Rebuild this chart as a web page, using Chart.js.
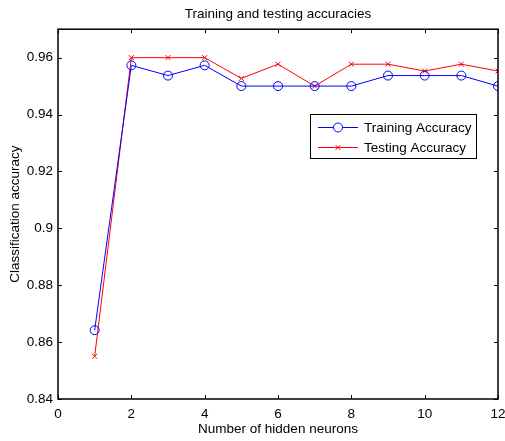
<!DOCTYPE html>
<html>
<head>
<meta charset="utf-8">
<script src="https://cdn.jsdelivr.net/npm/chart.js@4"></script>
<style>
  html, body { margin: 0; padding: 0; background: #fff; }
  #wrap { width: 505px; height: 441px; }
</style>
</head>
<body>
<div id="wrap"><canvas id="c" width="505" height="441"></canvas></div>
<script>
// Hidden layer size vs. accuracy
const neurons = [1, 2, 3, 4, 5, 6, 7, 8, 9, 10, 11, 12];
const trainingAccuracy = [0.8642, 0.9573, 0.9537, 0.9573, 0.95, 0.95, 0.95, 0.95, 0.9537, 0.9537, 0.9537, 0.95];
const testingAccuracy  = [0.855, 0.96, 0.96, 0.96, 0.9527, 0.9577, 0.95, 0.9577, 0.9577, 0.9553, 0.9577, 0.9553];
const xTicks = [0, 2, 4, 6, 8, 10, 12];
const yTicks = [0.84, 0.86, 0.88, 0.9, 0.92, 0.94, 0.96];

const FONT = 'Liberation Sans, Arial, Helvetica, sans-serif';
const FS = 13.5;

const toPoints = (ys) => neurons.map((x, i) => ({ x, y: ys[i] }));

// Box frame with inward ticks on all four sides, plus an inset legend
const framePlugin = {
  id: 'frame',
  afterDraw(chart) {
    const { ctx, chartArea: a, scales } = chart;
    const xs = scales.x, ys = scales.y;
    const T = 4;
    ctx.save();
    ctx.strokeStyle = '#000';
    ctx.lineWidth = 1;
    ctx.beginPath();
    xTicks.forEach(v => {
      const px = Math.round(xs.getPixelForValue(v)) + 0.5;
      ctx.moveTo(px, a.bottom); ctx.lineTo(px, a.bottom - T);
      ctx.moveTo(px, a.top); ctx.lineTo(px, a.top + T);
    });
    yTicks.forEach(v => {
      const py = Math.round(ys.getPixelForValue(v)) + 0.5;
      ctx.moveTo(a.left, py); ctx.lineTo(a.left + T, py);
      ctx.moveTo(a.right, py); ctx.lineTo(a.right - T, py);
    });
    ctx.stroke();
    ctx.lineWidth = 1.5;
    ctx.strokeRect(a.left, a.top, a.right - a.left, a.bottom - a.top);

    // legend
    const lx = 310, ly = 114, lw = 166, lh = 44;
    ctx.fillStyle = '#fff';
    ctx.fillRect(lx, ly, lw, lh);
    ctx.lineWidth = 1;
    ctx.strokeRect(lx + 0.5, ly + 0.5, lw, lh);
    ctx.font = FS + 'px ' + FONT;
    ctx.textBaseline = 'middle';
    chart.data.datasets.forEach((ds, i) => {
      const cy = ly + 13.5 + i * 20;
      ctx.strokeStyle = ds.borderColor;
      ctx.lineWidth = 1;
      ctx.beginPath();
      ctx.moveTo(lx + 8, cy); ctx.lineTo(lx + 48, cy);
      ctx.stroke();
      Chart.helpers.drawPoint(ctx, {
        pointStyle: ds.pointStyle, radius: ds.pointRadius, borderWidth: 1
      }, lx + 28, cy);
      ctx.fillStyle = '#000';
      ctx.fillText(ds.label, lx + 54, cy + 1);
    });
    ctx.restore();
  }
};

new Chart(document.getElementById('c'), {
  type: 'line',
  data: {
    datasets: [
      {
        label: 'Training Accuracy',
        data: toPoints(trainingAccuracy),
        borderColor: '#0000ff',
        backgroundColor: 'rgba(0,0,0,0)',
        borderWidth: 1,
        pointStyle: 'circle',
        pointRadius: 4.5,
        pointBorderWidth: 1,
        pointBorderColor: '#0000ff',
        pointBackgroundColor: 'rgba(0,0,0,0)',
        tension: 0
      },
      {
        label: 'Testing Accuracy',
        data: toPoints(testingAccuracy),
        borderColor: '#ff0000',
        backgroundColor: 'rgba(0,0,0,0)',
        borderWidth: 1,
        pointStyle: 'crossRot',
        pointRadius: 3.5,
        pointBorderWidth: 1,
        pointBorderColor: '#ff0000',
        pointBackgroundColor: 'rgba(0,0,0,0)',
        tension: 0
      }
    ]
  },
  options: {
    responsive: false,
    animation: false,
    devicePixelRatio: 1,
    layout: { padding: { top: 0, right: 7, bottom: 0, left: 0 } },
    plugins: {
      legend: { display: false },
      tooltip: { enabled: false },
      title: {
        display: true,
        fullSize: false,
        text: 'Training and testing accuracies',
        color: '#000',
        font: { family: FONT, size: FS, weight: 'normal' },
        padding: { top: 6, bottom: 7 }
      }
    },
    scales: {
      x: {
        type: 'linear',
        min: 0, max: 12,
        afterBuildTicks: (s) => { s.ticks = xTicks.map(v => ({ value: v })); },
        afterFit: (s) => { s.height = 42; s.paddingLeft = 0; s.paddingRight = 0; },
        grid: { display: false, drawTicks: false },
        border: { display: false },
        ticks: {
          color: '#000', padding: 7, maxRotation: 0,
          font: { family: FONT, size: FS }
        },
        title: {
          display: true,
          text: 'Number of hidden neurons',
          color: '#000',
          font: { family: FONT, size: FS },
          padding: { top: 0, bottom: 4 }
        }
      },
      y: {
        type: 'linear',
        min: 0.84, max: 0.97,
        afterBuildTicks: (s) => { s.ticks = yTicks.map(v => ({ value: v })); },
        afterFit: (s) => { s.width = 58; s.paddingTop = 0; s.paddingBottom = 0; },
        grid: { display: false, drawTicks: false },
        border: { display: false },
        ticks: {
          color: '#000', padding: 5,
          font: { family: FONT, size: FS },
          callback: (v) => String(+v.toFixed(2))
        },
        title: {
          display: true,
          text: 'Classification accuracy',
          color: '#000',
          font: { family: FONT, size: FS },
          padding: { top: 7, bottom: 0 }
        }
      }
    }
  },
  plugins: [framePlugin]
});
</script>
</body>
</html>
